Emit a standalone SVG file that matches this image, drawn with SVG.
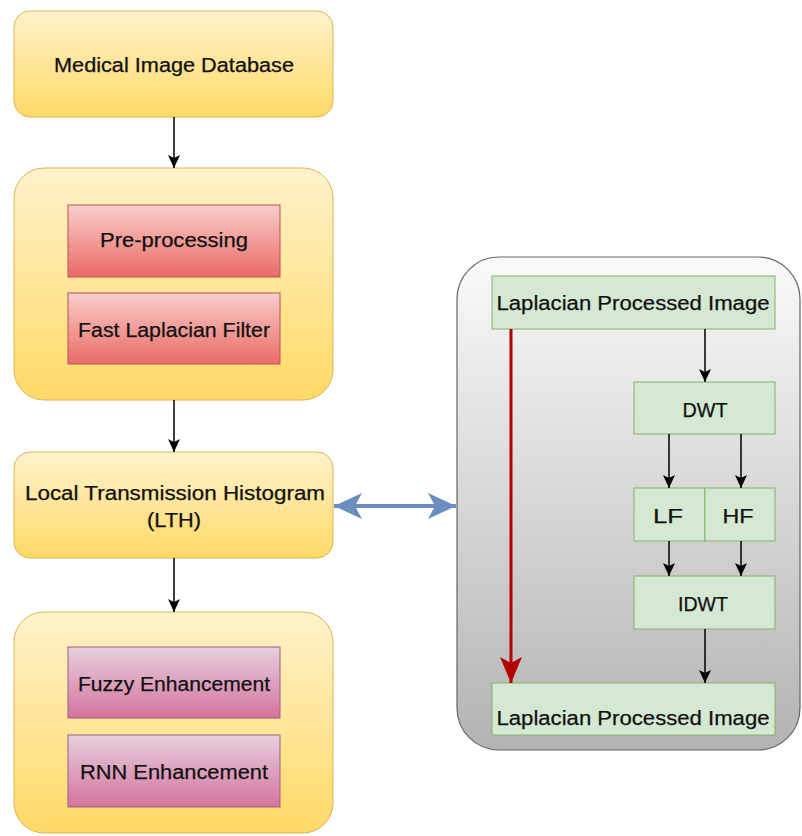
<svg xmlns="http://www.w3.org/2000/svg" width="802" height="836" viewBox="0 0 802 836">
<defs>
<linearGradient id="gY" x1="0" y1="0" x2="0" y2="1"><stop offset="0" stop-color="#fff2cc"/><stop offset="1" stop-color="#ffd966"/></linearGradient>
<linearGradient id="gR" x1="0" y1="0" x2="0" y2="1"><stop offset="0" stop-color="#f8cecc"/><stop offset="1" stop-color="#ea6b66"/></linearGradient>
<linearGradient id="gP" x1="0" y1="0" x2="0" y2="1"><stop offset="0" stop-color="#e6d0de"/><stop offset="1" stop-color="#d5739d"/></linearGradient>
<linearGradient id="gG" x1="0" y1="0" x2="0" y2="1"><stop offset="0" stop-color="#fafafa"/><stop offset="1" stop-color="#b3b3b3"/></linearGradient>
<marker id="aB" markerUnits="userSpaceOnUse" markerWidth="13" markerHeight="12" refX="13" refY="6" orient="auto"><path d="M0,0 L13,6 L0,12 L3,6 z" fill="#000"/></marker>
<marker id="aR" markerUnits="userSpaceOnUse" markerWidth="26" markerHeight="22" refX="26" refY="11" orient="auto"><path d="M0,0 L26,11 L0,22 L6,11 z" fill="#b20000"/></marker>
<marker id="aL" markerUnits="userSpaceOnUse" markerWidth="28" markerHeight="26" refX="28" refY="13" orient="auto-start-reverse"><path d="M0,0 L28,13 L0,26 L7,13 z" fill="#6c8ebf"/></marker>
</defs>
<style>
.y{fill:url(#gY);stroke:#d6b656;stroke-width:1}
.r{fill:url(#gR);stroke:#b85450;stroke-width:1}
.p{fill:url(#gP);stroke:#996185;stroke-width:1}
.g{fill:#d5e8d4;stroke:#82b366;stroke-width:1}
.c{fill:url(#gG);stroke:#666666;stroke-width:1.2}
text{font-family:"Liberation Sans",Arial,sans-serif;font-size:20px;fill:#111;stroke:#111;stroke-width:0.25;text-anchor:middle}
.k{stroke:#000;stroke-width:1.5;fill:none;marker-end:url(#aB)}
</style>
<g id="n-mid">
<rect class="y" x="14" y="11" width="319" height="106" rx="16"/>
<text x="174" y="72" textLength="240" lengthAdjust="spacingAndGlyphs">Medical Image Database</text>
</g>
<g id="n-pre-container">
<rect class="y" x="14" y="168" width="319" height="232" rx="30"/>
</g>
<g id="n-pre">
<rect class="r" x="68" y="205" width="212" height="72"/>
<text x="174" y="247" textLength="148" lengthAdjust="spacingAndGlyphs">Pre-processing</text>
</g>
<g id="n-flf">
<rect class="r" x="68" y="293" width="212" height="71"/>
<text x="174" y="337" textLength="192" lengthAdjust="spacingAndGlyphs">Fast Laplacian Filter</text>
</g>
<g id="n-lth">
<rect class="y" x="14" y="452" width="319" height="106" rx="16"/>
<text x="175" y="500" textLength="300" lengthAdjust="spacingAndGlyphs">Local Transmission Histogram</text>
<text x="174" y="527" textLength="54" lengthAdjust="spacingAndGlyphs">(LTH)</text>
</g>
<g id="n-enh-container">
<rect class="y" x="14" y="612" width="319" height="221" rx="30"/>
</g>
<g id="n-fuzzy">
<rect class="p" x="68" y="647" width="212" height="71"/>
<text x="174" y="691" textLength="192" lengthAdjust="spacingAndGlyphs">Fuzzy Enhancement</text>
</g>
<g id="n-rnn">
<rect class="p" x="68" y="735" width="212" height="72"/>
<text x="174" y="779" textLength="188" lengthAdjust="spacingAndGlyphs">RNN Enhancement</text>
</g>
<g id="n-right-container">
<rect class="c" x="457" y="257" width="343" height="493" rx="42"/>
</g>
<g id="n-lpi1">
<rect class="g" x="492" y="276" width="283" height="53"/>
<text x="633" y="310" textLength="273" lengthAdjust="spacingAndGlyphs">Laplacian Processed Image</text>
</g>
<g id="n-dwt">
<rect class="g" x="634" y="382" width="141" height="52"/>
<text x="705" y="417" textLength="45" lengthAdjust="spacingAndGlyphs">DWT</text>
</g>
<g id="n-lf">
<rect class="g" x="634" y="488" width="71" height="53"/>
<text x="668" y="523" textLength="30" lengthAdjust="spacingAndGlyphs">LF</text>
</g>
<g id="n-hf">
<rect class="g" x="705" y="488" width="70" height="53"/>
<text x="738" y="523" textLength="31" lengthAdjust="spacingAndGlyphs">HF</text>
</g>
<g id="n-idwt">
<rect class="g" x="634" y="576" width="141" height="53"/>
<text x="703" y="611" textLength="50" lengthAdjust="spacingAndGlyphs">IDWT</text>
</g>
<g id="n-lpi2">
<rect class="g" x="492" y="683" width="283" height="52"/>
<text x="633" y="725" textLength="273" lengthAdjust="spacingAndGlyphs">Laplacian Processed Image</text>
</g>
<g id="connectors">
<line class="k" x1="174" y1="117" x2="174" y2="168"/>
<line class="k" x1="174" y1="400" x2="174" y2="452"/>
<line class="k" x1="174" y1="558" x2="174" y2="612"/>
<line class="k" x1="705" y1="329" x2="705" y2="382"/>
<line class="k" x1="669" y1="434" x2="669" y2="488"/>
<line class="k" x1="741" y1="434" x2="741" y2="488"/>
<line class="k" x1="669" y1="541" x2="669" y2="576"/>
<line class="k" x1="741" y1="541" x2="741" y2="576"/>
<line class="k" x1="705" y1="629" x2="705" y2="683"/>
<line x1="511" y1="329" x2="511" y2="683" stroke="#b20000" stroke-width="3" marker-end="url(#aR)"/>
<line x1="334" y1="506" x2="456" y2="506" stroke="#6c8ebf" stroke-width="4" marker-start="url(#aL)" marker-end="url(#aL)"/>
</g>
</svg>
